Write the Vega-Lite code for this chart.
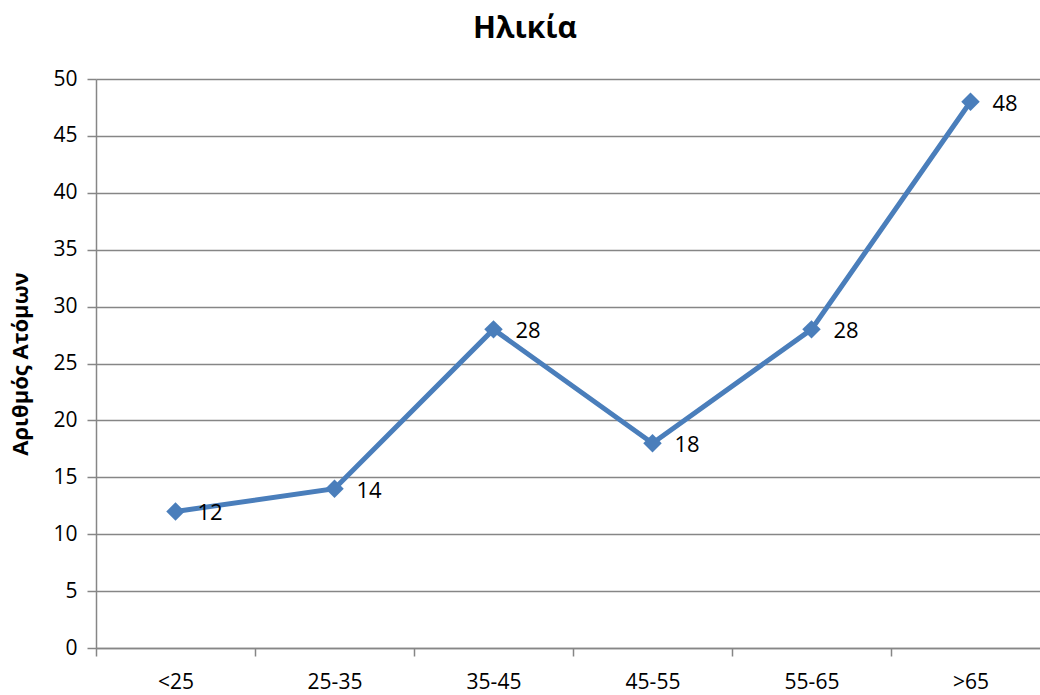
{
  "$schema": "https://vega.github.io/schema/vega-lite/v6.json",
  "autosize": "none",
  "width": 954,
  "height": 569,
  "padding": {"left": 96, "top": 79, "right": 0, "bottom": 47},
  "background": "white",
  "title": {"text": "Ηλικία", "font": "Open Sans", "fontSize": 30, "fontWeight": "bold", "color": "#000000", "offset": 24, "anchor": "middle", "dx": -48},
  "data": {"values": [
    {"age": "<25", "count": 12},
    {"age": "25-35", "count": 14},
    {"age": "35-45", "count": 28},
    {"age": "45-55", "count": 18},
    {"age": "55-65", "count": 28},
    {"age": ">65", "count": 48}
  ]},
  "config": {
    "view": {"stroke": null},
    "font": "Open Sans"
  },
  "encoding": {
    "x": {"field": "age", "type": "ordinal", "sort": null,
      "scale": {"paddingInner": 0, "paddingOuter": 0},
      "axis": {"title": null, "labelAngle": 0, "labelFontSize": 21, "labelColor": "#000000", "labelFont": "Open Sans",
        "domainColor": "#868686", "domainWidth": 1.5, "tickColor": "#868686", "tickWidth": 1.5, "tickSize": 8, "tickBand": "extent", "labelPadding": 15, "grid": false}},
    "y": {"field": "count", "type": "quantitative",
      "scale": {"domain": [0, 50], "nice": false},
      "axis": {"title": "Αριθμός Ατόμων", "titleFontSize": 22, "titleFontWeight": "bold", "titleColor": "#000000", "titleFont": "Open Sans", "titlePadding": 20,
        "values": [0,5,10,15,20,25,30,35,40,45,50], "labelFontSize": 21, "labelColor": "#000000", "labelFont": "Open Sans", "labelPadding": 10,
        "domainColor": "#868686", "domainWidth": 1.5, "tickColor": "#868686", "tickWidth": 1.5, "tickSize": 9,
        "grid": true, "gridColor": "#868686", "gridWidth": 1.5}}
  },
  "layer": [
    {"mark": {"type": "line", "color": "#4a7ebb", "strokeWidth": 5}},
    {"mark": {"type": "point", "shape": "diamond", "filled": true, "color": "#4a7ebb", "opacity": 1, "size": 340}},
    {"mark": {"type": "text", "align": "left", "dx": 22, "dy": 2, "fontSize": 22, "font": "Open Sans", "color": "#000000"},
      "encoding": {"text": {"field": "count", "type": "quantitative"}}}
  ]
}
